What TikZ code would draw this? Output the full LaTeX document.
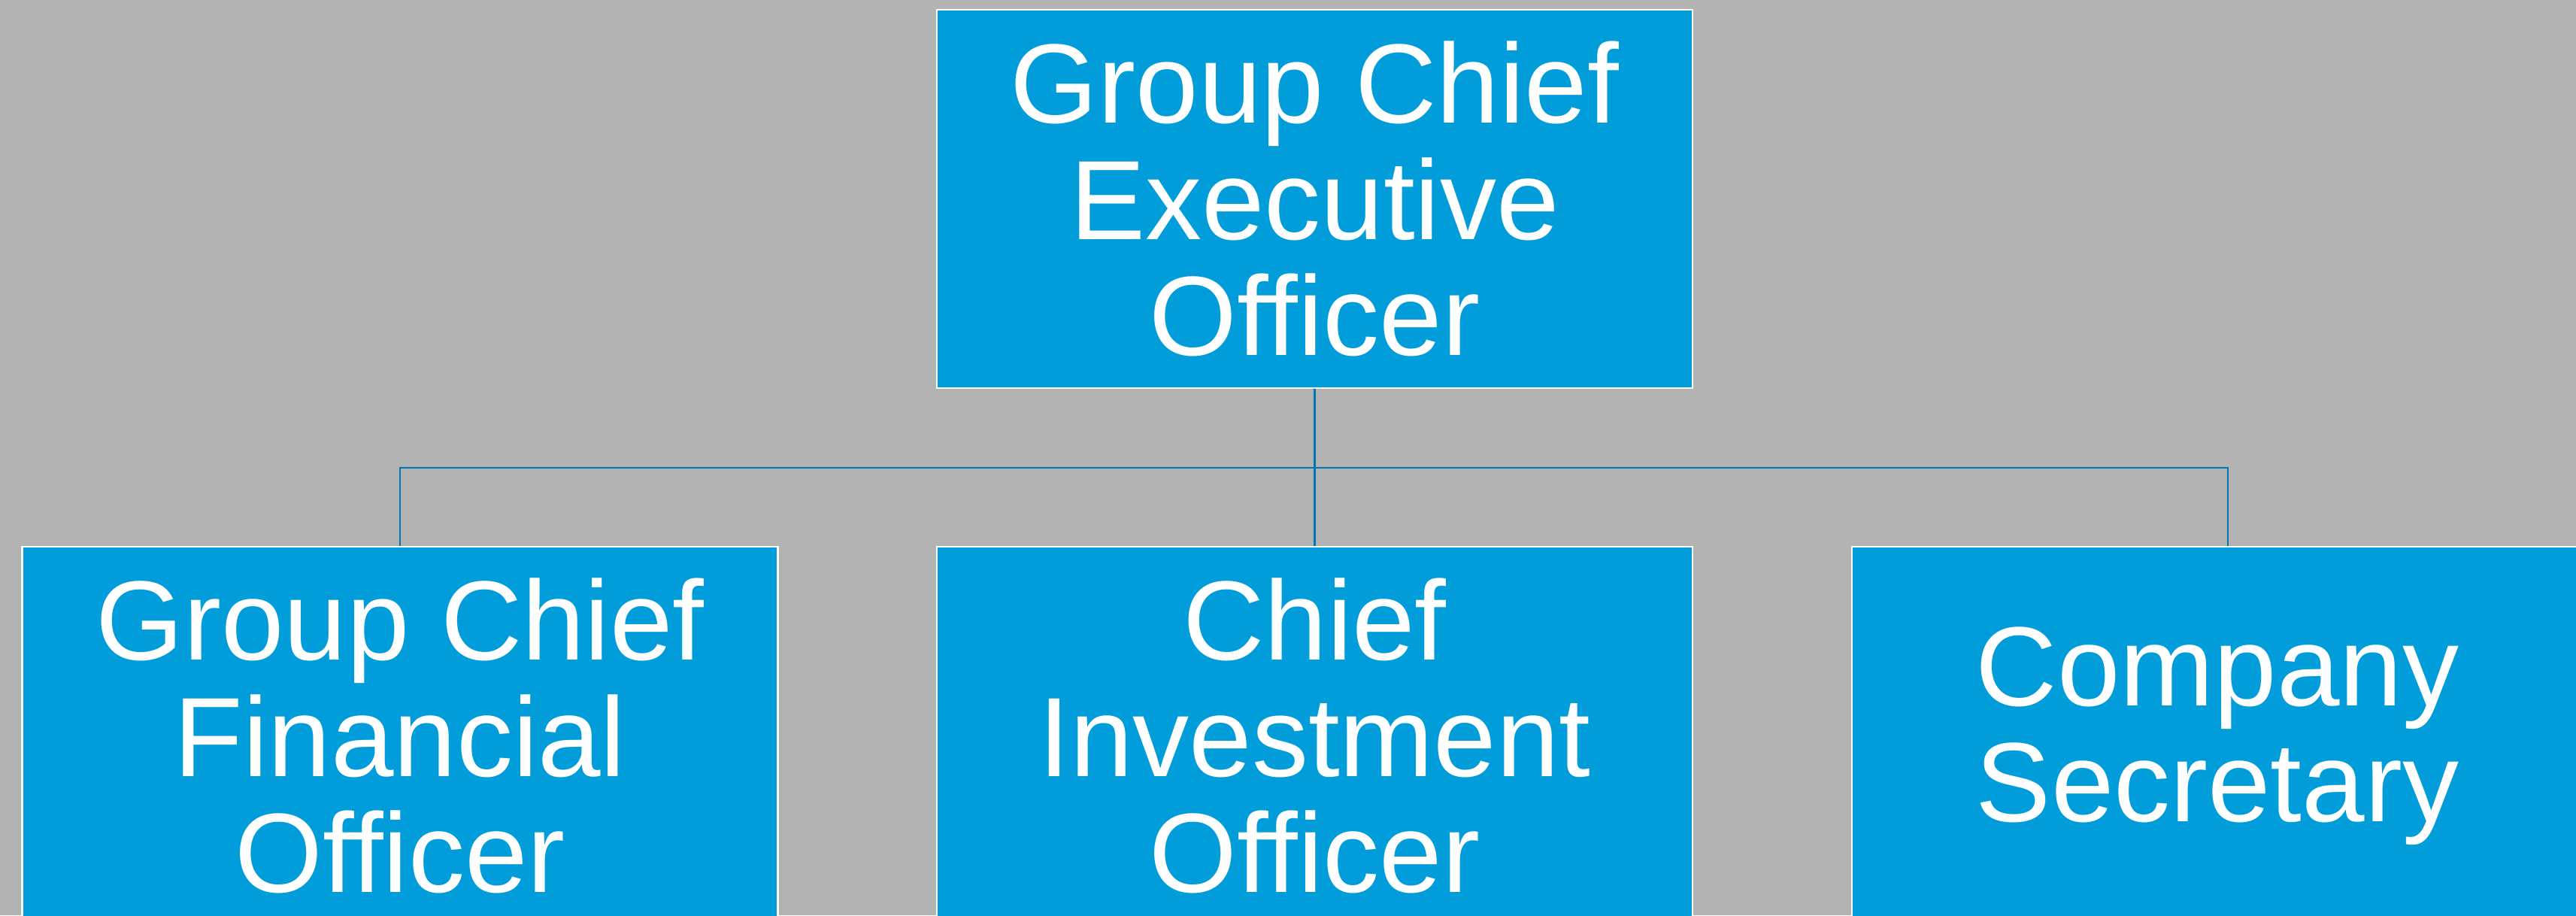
\documentclass[tikz,border=0pt]{standalone}
\usepackage{fontspec}
\setmainfont{Liberation Sans}[Ligatures=NoCommon]
\definecolor{boxblue}{RGB}{0,157,218}
\definecolor{linkblue}{RGB}{0,118,178}
\definecolor{backgray}{RGB}{179,179,179}

\begin{document}
\begin{tikzpicture}[
  post/.style={draw=white, line width=0.6pt, fill=boxblue, text=white,
    minimum width=10.05cm, minimum height=5.03cm, inner sep=0pt,
    align=center, font=\fontsize{42.7}{44}\selectfont},
  link/.style={draw=linkblue, line width=0.8pt}]
\useasboundingbox (0,0) rectangle (34.26,12.17);
\clip (0,0) rectangle (34.26,12.17);
\fill[backgray] (0,0) rectangle (34.26,12.17);
\node[post] (gceo) at (17.485,9.525) {Group Chief\\Executive\\Officer};
\node[post] (gcfo) at (5.32,2.385) {Group Chief\\Financial\\Officer};
\node[post] (cio) at (17.485,2.385) {Chief\\Investment\\Officer};
\node[post, minimum width=9.72cm, anchor=west] (cosec) at (24.62,2.385) {Company\\Secretary};
\coordinate (bar) at (17.485,5.95);
\coordinate (cosecjoin) at (29.63,5.95);
\draw[link] (gceo.south) -- (bar) -- (cio.north);
\draw[link] (gcfo.north) |- (bar) -- (cosecjoin) -- (cosecjoin |- cosec.north);
\end{tikzpicture}
\end{document}
